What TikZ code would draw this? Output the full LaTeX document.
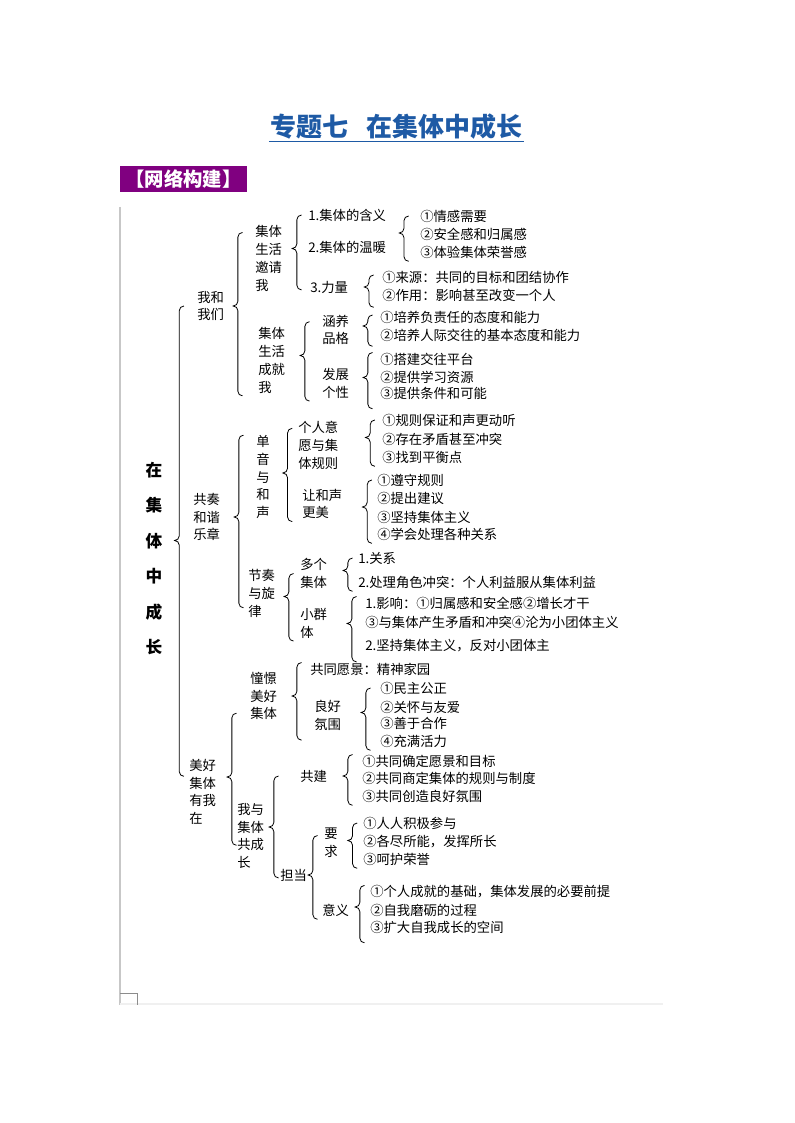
\documentclass[tikz,border=0pt]{standalone}
\usepackage{fontspec}
\setmainfont{Noto Sans CJK SC}
\usetikzlibrary{calc}
\definecolor{titleblue}{RGB}{30,90,165}
\definecolor{tagpurple}{RGB}{128,0,128}
\tikzset{
  page title/.style={font=\bfseries\fontsize{19.5}{24}\selectfont, text=titleblue, inner sep=1pt},
  tag box/.style={fill=tagpurple, text=white, font=\bfseries\fontsize{14.5}{17}\selectfont, minimum width=95pt, minimum height=19.5pt, inner sep=0pt},
  root topic/.style={font=\bfseries\fontsize{12.5}{26.6}\selectfont, align=center, inner sep=0pt},
  topic/.style={font=\fontsize{10}{13.3}\selectfont, align=left, inner sep=0pt, anchor=west},
  brace line/.style={draw=black, line width=0.6pt},
  frame line/.style={draw=black!22, line width=1.2pt},
}
% brace: tip point, top end, bottom end
\newcommand\brc[3]{%
  \draw[brace line] let \p1=#1, \p2=#2, \p3=#3 in
    ({\x1+7pt},\y2) arc[start angle=90,end angle=180,radius=3.5pt]
    -- ({\x1+3.5pt},{\y1+3.5pt}) arc[start angle=0,end angle=-90,radius=3.5pt]
    arc[start angle=90,end angle=0,radius=3.5pt]
    -- ({\x1+3.5pt},{\y3-3.5pt}) arc[start angle=180,end angle=270,radius=3.5pt];}

\begin{document}
\begin{tikzpicture}[x=0.75pt,y=-0.75pt]
\useasboundingbox (0,0) rectangle (794,1123);
% title and tag
\node [page title] (ttl) at (396.5,127) {专题七\hspace{.7em}在集体中成长};
\draw [titleblue, line width=1.1pt] (ttl.south west) -- (ttl.south east);
\node [tag box] (tag) at (183.5,179) {【网络构建】};
% frame of the table
\draw [frame line] (120,207) -- (120,1005);
\draw [draw=black!6, line width=0.8pt] (120,1004) -- (663,1004);
\draw [draw=black!45, line width=0.5pt] (120,993) -- (137,993) -- (137,1005);

% the nodes
\node [root topic] (jt) at (154,558.5) {在\\集\\体\\中\\成\\长};
\node [topic] (jtA) at (197,306) {我和\\我们};
\node [topic] (jtB) at (193,517) {共奏\\和谐\\乐章};
\node [topic] (jtC) at (189,792) {美好\\集体\\有我\\在};

\node [topic] (jtAa) at (255,258.5) {集体\\生活\\邀请\\我};
\node [topic] (jtAa1) at (308,215) {1.集体的含义};
\node [topic] (jtAa2) at (308,247) {2.集体的温暖};
\node [topic] (jtAa2a) at (420,216) {①情感需要};
\node [topic] (jtAa2b) at (420,234) {②安全感和归属感};
\node [topic] (jtAa2c) at (420,252) {③体验集体荣誉感};
\node [topic] (jtAa3) at (310,287) {3.力量};
\node [topic] (jtAa3a) at (382,277) {①来源：共同的目标和团结协作};
\node [topic] (jtAa3b) at (382,295) {②作用：影响甚至改变一个人};
\node [topic] (jtAb) at (258,360.5) {集体\\生活\\成就\\我};
\node [topic] (jtAb1) at (322,330) {涵养\\品格};
\node [topic] (jtAb1a) at (380,317) {①培养负责任的态度和能力};
\node [topic] (jtAb1b) at (380,335) {②培养人际交往的基本态度和能力};
\node [topic] (jtAb2) at (322,383.5) {发展\\个性};
\node [topic] (jtAb2a) at (380,359) {①搭建交往平台};
\node [topic] (jtAb2b) at (380,377) {②提供学习资源};
\node [topic] (jtAb2c) at (380,393) {③提供条件和可能};

\node [topic] (jtBa) at (256,477) {单\\音\\与\\和\\声};
\node [topic] (jtBa1) at (298,445.5) {个人意\\愿与集\\体规则};
\node [topic] (jtBa1a) at (382,420) {①规则保证和声更动听};
\node [topic] (jtBa1b) at (382,439) {②存在矛盾甚至冲突};
\node [topic] (jtBa1c) at (382,457) {③找到平衡点};
\node [topic] (jtBa2) at (302,504) {让和声\\更美};
\node [topic] (jtBa2a) at (377,480) {①遵守规则};
\node [topic] (jtBa2b) at (377,498) {②提出建议};
\node [topic] (jtBa2c) at (377,517) {③坚持集体主义};
\node [topic] (jtBa2d) at (377,534) {④学会处理各种关系};
\node [topic] (jtBb) at (248,593.5) {节奏\\与旋\\律};
\node [topic] (jtBb1) at (300,573.5) {多个\\集体};
\node [topic] (jtBb1a) at (358,558) {1.关系};
\node [topic] (jtBb1b) at (358,582) {2.处理角色冲突：个人利益服从集体利益};
\node [topic] (jtBb2) at (300,623.5) {小群\\体};
\node [topic] (jtBb2a) at (365,603) {1.影响：①归属感和安全感②增长才干};
\node [topic] (jtBb2b) at (365,622) {③与集体产生矛盾和冲突④沦为小团体主义};
\node [topic] (jtBb2c) at (365,646) {2.坚持集体主义，反对小团体主};

\node [topic] (jtCa) at (250,696) {憧憬\\美好\\集体};
\node [topic] (jtCa1) at (310,669) {共同愿景：精神家园};
\node [topic] (jtCa2) at (314,715.5) {良好\\氛围};
\node [topic] (jtCa2a) at (380,688) {①民主公正};
\node [topic] (jtCa2b) at (380,707) {②关怀与友爱};
\node [topic] (jtCa2c) at (380,723) {③善于合作};
\node [topic] (jtCa2d) at (380,741) {④充满活力};
\node [topic] (jtCb) at (237,836) {我与\\集体\\共成\\长};
\node [topic] (jtCb1) at (300,776) {共建};
\node [topic] (jtCb1a) at (362,761) {①共同确定愿景和目标};
\node [topic] (jtCb1b) at (362,778) {②共同商定集体的规则与制度};
\node [topic] (jtCb1c) at (362,796) {③共同创造良好氛围};
\node [topic] (jtCb2) at (280,875) {担当};
\node [topic] (jtCb21) at (324,842.5) {要\\求};
\node [topic] (jtCb21a) at (363,823) {①人人积极参与};
\node [topic] (jtCb21b) at (363,842) {②各尽所能，发挥所长};
\node [topic] (jtCb21c) at (363,859) {③呵护荣誉};
\node [topic] (jtCb22) at (322,910) {意义};
\node [topic] (jtCb22a) at (370,892) {①个人成就的基础，集体发展的必要前提};
\node [topic] (jtCb22b) at (370,910) {②自我磨砺的过程};
\node [topic] (jtCb22c) at (370,927) {③扩大自我成长的空间};

%drawings of braces
\brc{($(jt.east)+(12,-18)$)}{(jtA.west)}{($(jtC.north)+(0,8)$)}
\brc{($(jtA.east)+(9,0)$)}{($(jtAa.north)+(0,7)$)}{($(jtAb.south)+(0,-7)$)}
\brc{($(jtAa.east)+(10,-10)$)}{(jtAa1.west)}{(jtAa3.north)}
\brc{($(jtAa2.east)+(13,-14)$)}{(jtAa2a.west)}{(jtAa2c.west)}
\brc{($(jtAa3.east)+(16,0)$)}{($(jtAa3a.west)+(0,-2)$)}{($(jtAa3b.west)+(0,3)$)}
\brc{($(jtAb.east)+(15,-5)$)}{($(jtAb1.north)+(0,7)$)}{($(jtAb2.south)+(0,-7)$)}
\brc{($(jtAb1.east)+(14,-4)$)}{($(jtAb1a.west)+(0,-2)$)}{($(jtAb1b.west)+(0,2)$)}
\brc{($(jtAb2.east)+(14,-6)$)}{(jtAb2a.north)}{(jtAb2c.south)}

\brc{($(jtB.east)+(14,0)$)}{(jtBa.north)}{($(jtBb.west)+(0,5)$)}
\brc{($(jtBa.east)+(13,-4)$)}{($(jtBa1.north)+(0,7)$)}{($(jtBa2.south)+(0,-7)$)}
\brc{($(jtBa1.east)+(27,-8)$)}{(jtBa1a.west)}{(jtBa1c.west)}
\brc{($(jtBa2.east)+(20,3)$)}{(jtBa2a.west)}{(jtBa2d.west)}
\brc{($(jtBb.east)+(9,3)$)}{(jtBb1.west)}{($(jtBb2.south)+(0,-7)$)}
\brc{($(jtBb1.east)+(16,-3)$)}{(jtBb1a.west)}{(jtBb1b.west)}
\brc{($(jtBb2.east)+(20,0)$)}{(jtBb2a.north)}{(jtBb2c.south)}

\brc{($(jtC.east)+(11,-15)$)}{($(jtCa.south)+(0,-7)$)}{(jtCb.west)}
\brc{($(jtCa.east)+(15,0)$)}{(jtCa1.north)}{(jtCa2.south)}
\brc{($(jtCa2.east)+(20,-3)$)}{(jtCa2a.west)}{(jtCa2d.west)}
\brc{($(jtCb.east)+(5,-9)$)}{(jtCb1.west)}{(jtCb2.north)}
\brc{($(jtCb1.east)+(16,0)$)}{(jtCb1a.north)}{(jtCb1c.west)}
\brc{($(jtCb2.east)+(1,0)$)}{($(jtCb21.north)+(0,8)$)}{(jtCb22.west)}
\brc{($(jtCb21.east)+(10,-2)$)}{(jtCb21a.west)}{(jtCb21c.west)}
\brc{($(jtCb22.east)+(6,-3)$)}{(jtCb22a.north)}{(jtCb22c.south)}
\end{tikzpicture}
\end{document}
